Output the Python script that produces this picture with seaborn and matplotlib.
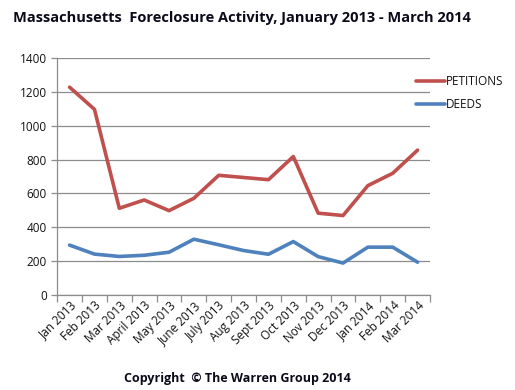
import pandas as pd
import matplotlib.pyplot as plt
import seaborn as sns
from matplotlib.ticker import FixedLocator, NullFormatter

months = ["Jan 2013", "Feb 2013", "Mar 2013", "April 2013", "May 2013", "June 2013",
          "July 2013", "Aug 2013", "Sept 2013", "Oct 2013", "Nov 2013", "Dec 2013",
          "Jan 2014", "Feb 2014", "Mar 2014"]
petitions = [1228, 1097, 512, 561, 498, 571, 707, 694, 681, 818, 483, 469, 646, 719, 856]
deeds = [294, 241, 227, 234, 252, 329, 296, 262, 240, 315, 226, 188, 282, 282, 193]

df = pd.DataFrame({"month": months * 2,
                   "value": petitions + deeds,
                   "series": ["PETITIONS"] * len(months) + ["DEEDS"] * len(months)})

sns.set_style("white")
plt.rcParams['font.family'] = ['Open Sans', 'DejaVu Sans']
plt.rcParams['text.color'] = "#111111"
plt.rcParams['xtick.color'] = "#111111"
plt.rcParams['ytick.color'] = "#111111"

fig = plt.figure(figsize=(5.15, 3.9), dpi=100)
ax = fig.add_axes([0.111, 0.244, 0.724, 0.607])

sns.lineplot(data=df, x="month", y="value", hue="series",
             palette={"PETITIONS": "#C0504D", "DEEDS": "#4F81BD"},
             linewidth=2.6, ax=ax, sort=False)

ax.set_xlim(-0.5, len(months) - 0.5)
ax.set_ylim(0, 1400)
ax.set_yticks(range(0, 1401, 200))
ax.yaxis.grid(True, color="#8c8c8c", linewidth=0.9)
ax.set_axisbelow(True)
for s in ["top", "right"]:
    ax.spines[s].set_visible(False)
for s in ["left", "bottom"]:
    ax.spines[s].set_color("#8c8c8c")
    ax.spines[s].set_linewidth(0.9)

# Excel-style tick marks between categories
ax.xaxis.set_minor_locator(FixedLocator([i - 0.5 for i in range(len(months) + 1)]))
ax.xaxis.set_minor_formatter(NullFormatter())
ax.tick_params(axis="x", which="minor", length=5, color="#8c8c8c", width=0.9, bottom=True)
ax.tick_params(axis="x", which="major", length=0, labelsize=8.5, pad=3)
ax.tick_params(axis="y", length=4, color="#8c8c8c", labelcolor="#111111", width=0.9,
               labelsize=8.5, left=True)
ax.set_xticks(range(len(months)))
ax.set_xticklabels(months, rotation=45, ha="right", rotation_mode="anchor")
ax.set_xlabel("")
ax.set_ylabel("")

ax.legend(loc="upper left", bbox_to_anchor=(0.935, 0.975), frameon=False,
          fontsize=8.5, handlelength=2.4, handletextpad=0.1, labelspacing=0.85)

fig.text(0.025, 0.953, "Massachusetts  Foreclosure Activity, January 2013 - March 2014",
         fontsize=10.5, fontweight="bold", ha="left", va="center", color="#0a0a1a")
fig.text(0.462, 0.03, "Copyright  \u00a9 The Warren Group 2014",
         fontsize=9, fontweight="bold", ha="center", va="center", color="#0a0a1a")

fig.savefig("out.png", dpi=100)
